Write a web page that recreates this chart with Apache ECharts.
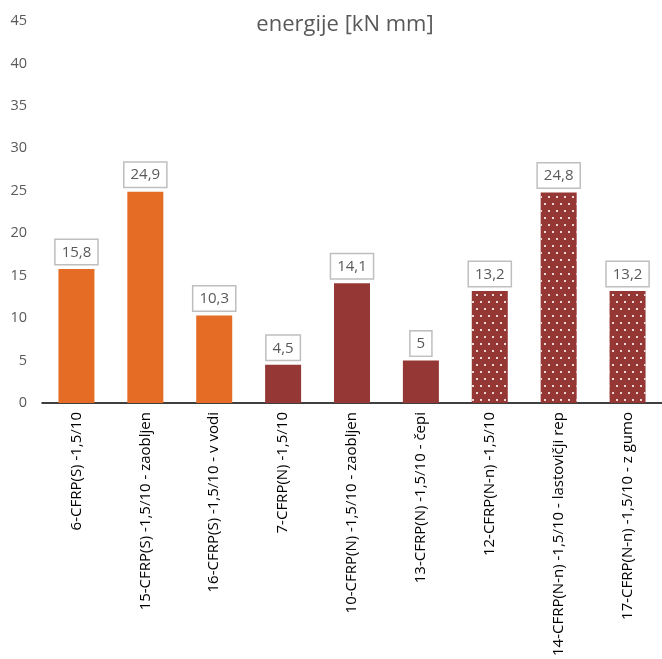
<!DOCTYPE html>
<html>
<head>
<meta charset="utf-8">
<script src="https://cdn.jsdelivr.net/npm/echarts@6/dist/echarts.min.js"></script>
<style>
  html, body { margin: 0; padding: 0; background: #fff; }
  #chart { width: 662px; height: 659px; }
</style>
</head>
<body>
<div id="chart"></div>
<script>
// Test specimens and absorbed energy [kN mm]
const categories = [
  '6-CFRP(S) -1,5/10',
  '15-CFRP(S) -1,5/10 - zaobljen',
  '16-CFRP(S) -1,5/10 - v vodi',
  '7-CFRP(N) -1,5/10',
  '10-CFRP(N) -1,5/10 - zaobljen',
  '13-CFRP(N) -1,5/10 - čepi',
  '12-CFRP(N-n) -1,5/10',
  '14-CFRP(N-n) -1,5/10 - lastovičji rep',
  '17-CFRP(N-n) -1,5/10 - z gumo'
];
const energy = [15.8, 24.9, 10.3, 4.5, 14.1, 5, 13.2, 24.8, 13.2];
// Fibre group of each specimen: S, N, N-n
const groups = ['S', 'S', 'S', 'N', 'N', 'N', 'Nn', 'Nn', 'Nn'];
const yTicks = [0, 5, 10, 15, 20, 25, 30, 35, 40, 45];

const groupStyle = {
  S:  { color: '#E46C25' },
  N:  { color: '#953735' },
  Nn: {
    color: '#953735',
    decal: {
      symbol: 'rect',
      symbolSize: 1,
      color: 'rgba(255,255,255,0.8)',
      dashArrayX: [[1.5, 5.5], [0, 3.5, 1.5, 2]],
      dashArrayY: [1.5, 4.2]
    }
  }
};

const chart = echarts.init(document.getElementById('chart'), null, { renderer: 'canvas' });
chart.setOption({
  animation: false,
  backgroundColor: '#ffffff',
  title: {
    text: 'energije [kN mm]',
    left: 340,
    top: 9,
    textAlign: 'center',
    textStyle: { fontFamily: 'Open Sans', fontSize: 22, fontWeight: 'normal', color: '#595959' }
  },
  grid: { left: 42, right: -4, top: 21, bottom: 255, containLabel: false },
  xAxis: {
    type: 'category',
    data: categories,
    axisLine: { show: true, lineStyle: { color: '#000', width: 1.5 } },
    axisTick: { show: false },
    axisLabel: {
      interval: 0,
      rotate: 90,
      margin: 9,
      color: '#000',
      fontFamily: 'Open Sans',
      fontSize: 15
    }
  },
  yAxis: {
    type: 'value',
    min: yTicks[0],
    max: yTicks[yTicks.length - 1],
    interval: 5,
    axisLine: { show: false },
    axisTick: { show: false },
    splitLine: { show: false },
    axisLabel: { margin: 15, color: '#595959', fontFamily: 'Open Sans', fontSize: 14.5 }
  },
  series: [{
    type: 'bar',
    barWidth: 36,
    data: energy.map((v, i) => ({ value: v, itemStyle: groupStyle[groups[i]] })),
    label: {
      show: true,
      position: 'top',
      distance: 5,
      formatter: p => String(p.value).replace('.', ','),
      color: '#595959',
      fontFamily: 'Open Sans',
      fontSize: 15,
      backgroundColor: '#ffffff',
      borderColor: '#bfbfbf',
      borderWidth: 1.5,
      padding: [5, 6, 4, 6]
    }
  }]
});
</script>
</body>
</html>
